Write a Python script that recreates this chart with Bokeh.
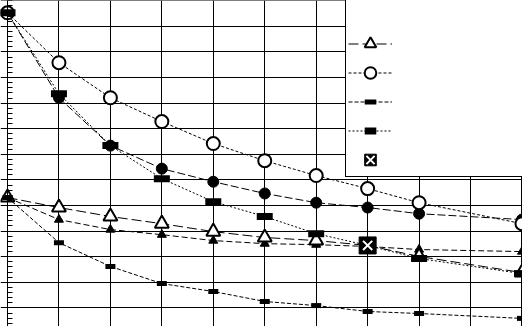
from bokeh.plotting import figure
from bokeh.models import Range1d, FixedTicker, Legend, LegendItem
from bokeh.core.properties import value
from bokeh.embed import file_html
from bokeh.resources import INLINE

# ---- data ----
xs = [0, 1, 2, 3, 4, 5, 6, 7, 8, 10]
open_circles = [12.53, 10.58, 9.21, 8.28, 7.42, 6.75, 6.17, 5.66, 5.11, 4.29]
filled_circles = [12.53, 9.21, 7.34, 6.44, 5.93, 5.47, 5.11, 4.92, 4.68, 4.45]
big_rects = [12.53, 9.37, 7.34, 6.05, 5.15, 4.57, 3.90, 3.44, 2.93, 2.34]
open_triangles = [5.31, 4.92, 4.57, 4.29, 3.98, 3.75, 3.63, 3.44, 3.01, 2.38]
filled_triangles = [5.31, 4.45, 4.06, 3.86, 3.63, 3.51, 3.47, 3.40, 3.28, 3.20]
small_rects = [5.31, 3.55, 2.62, 1.95, 1.64, 1.25, 1.09, 0.86, 0.78, 0.59]
single_x = [7]
single_y = [3.44]

x_major = list(range(0, 11))
x_minor = [i + 0.5 for i in range(10)]
y_major = list(range(0, 14))
y_minor = [i + k * 0.2 for i in range(13) for k in range(1, 5)]

p = figure(width=522, height=326,
           x_range=Range1d(-0.136, 10.01), y_range=Range1d(0.273, 13.01),
           output_backend="svg", toolbar_location=None,
           min_border_left=0, min_border_right=0, min_border_top=0, min_border_bottom=0)

p.xaxis.ticker = FixedTicker(ticks=x_major, minor_ticks=x_minor)
p.yaxis.ticker = FixedTicker(ticks=y_major, minor_ticks=y_minor)
for ax in (p.xaxis[0], p.yaxis[0]):
    ax.major_tick_out = 0
    ax.minor_tick_out = 0
    ax.major_label_text_font_size = "0px"
    ax.major_label_standoff = 0

# bottom axis of the reference lies below the visible window
xa = p.xaxis[0]
xa.axis_line_color = None
xa.major_tick_line_color = None
xa.minor_tick_line_color = None

ya = p.yaxis[0]
ya.fixed_location = 0
ya.axis_line_color = "black"
ya.axis_line_width = 1
ya.major_tick_in = 5
ya.minor_tick_in = 5
ya.major_tick_line_color = "black"
ya.minor_tick_line_color = "black"

p.xgrid.grid_line_color = "black"
p.ygrid.grid_line_color = "black"
p.xgrid.grid_line_alpha = 1
p.ygrid.grid_line_alpha = 1
p.outline_line_color = None

# lines
l_oc = p.line(xs, open_circles, line_color="black", line_width=1, line_dash="3 2")
l_fc = p.line(xs, filled_circles, line_color="black", line_width=1, line_dash="8 3")
l_br = p.line(xs, big_rects, line_color="black", line_width=1, line_dash="2 2")
l_ot = p.line(xs, open_triangles, line_color="black", line_width=1, line_dash="10 4")
l_ft = p.line(xs, filled_triangles, line_color="black", line_width=1, line_dash="6 3")
l_sr = p.line(xs, small_rects, line_color="black", line_width=1, line_dash="4 2")

# markers
m_fc = p.scatter(xs, filled_circles, marker="circle", size=11, fill_color="black", line_color="black")
m_oc = p.scatter(xs, open_circles, marker="circle", size=13, fill_color="white", line_color="black", line_width=2)
m_ft = p.scatter(xs, filled_triangles, marker="triangle", size=9, fill_color="black", line_color="black")
m_ot = p.scatter(xs, open_triangles, marker="triangle", size=14, fill_color="white", line_color="black", line_width=2)
m_br = p.scatter(xs, big_rects, marker="dash", size=16, line_color="black", line_width=7)
m_sr = p.scatter(xs, small_rects, marker="dash", size=10, line_color="black", line_width=5)
m_x1 = p.scatter(single_x, single_y, marker="square", size=17, fill_color="black", line_color="black")
m_x2 = p.scatter(single_x, single_y, marker="x", size=13, line_color="white", line_width=2)

legend = Legend(items=[
    LegendItem(label=value(" "), renderers=[]),
    LegendItem(label=value(" "), renderers=[l_ot, m_ot]),
    LegendItem(label=value(" "), renderers=[l_oc, m_oc]),
    LegendItem(label=value(" "), renderers=[l_sr, m_sr]),
    LegendItem(label=value(" "), renderers=[l_br, m_br]),
    LegendItem(label=value(" "), renderers=[m_x1, m_x2]),
], location=(345, 149), glyph_width=44, glyph_height=29, label_height=29,
    spacing=0, padding=2, margin=0, label_width=140, label_standoff=5,
    border_line_color="black", border_line_width=1, border_line_alpha=1,
    background_fill_color="white", background_fill_alpha=1,
    label_text_font_size="8px")
p.add_layout(legend)

open("out.html", "w").write(file_html(p, INLINE))
